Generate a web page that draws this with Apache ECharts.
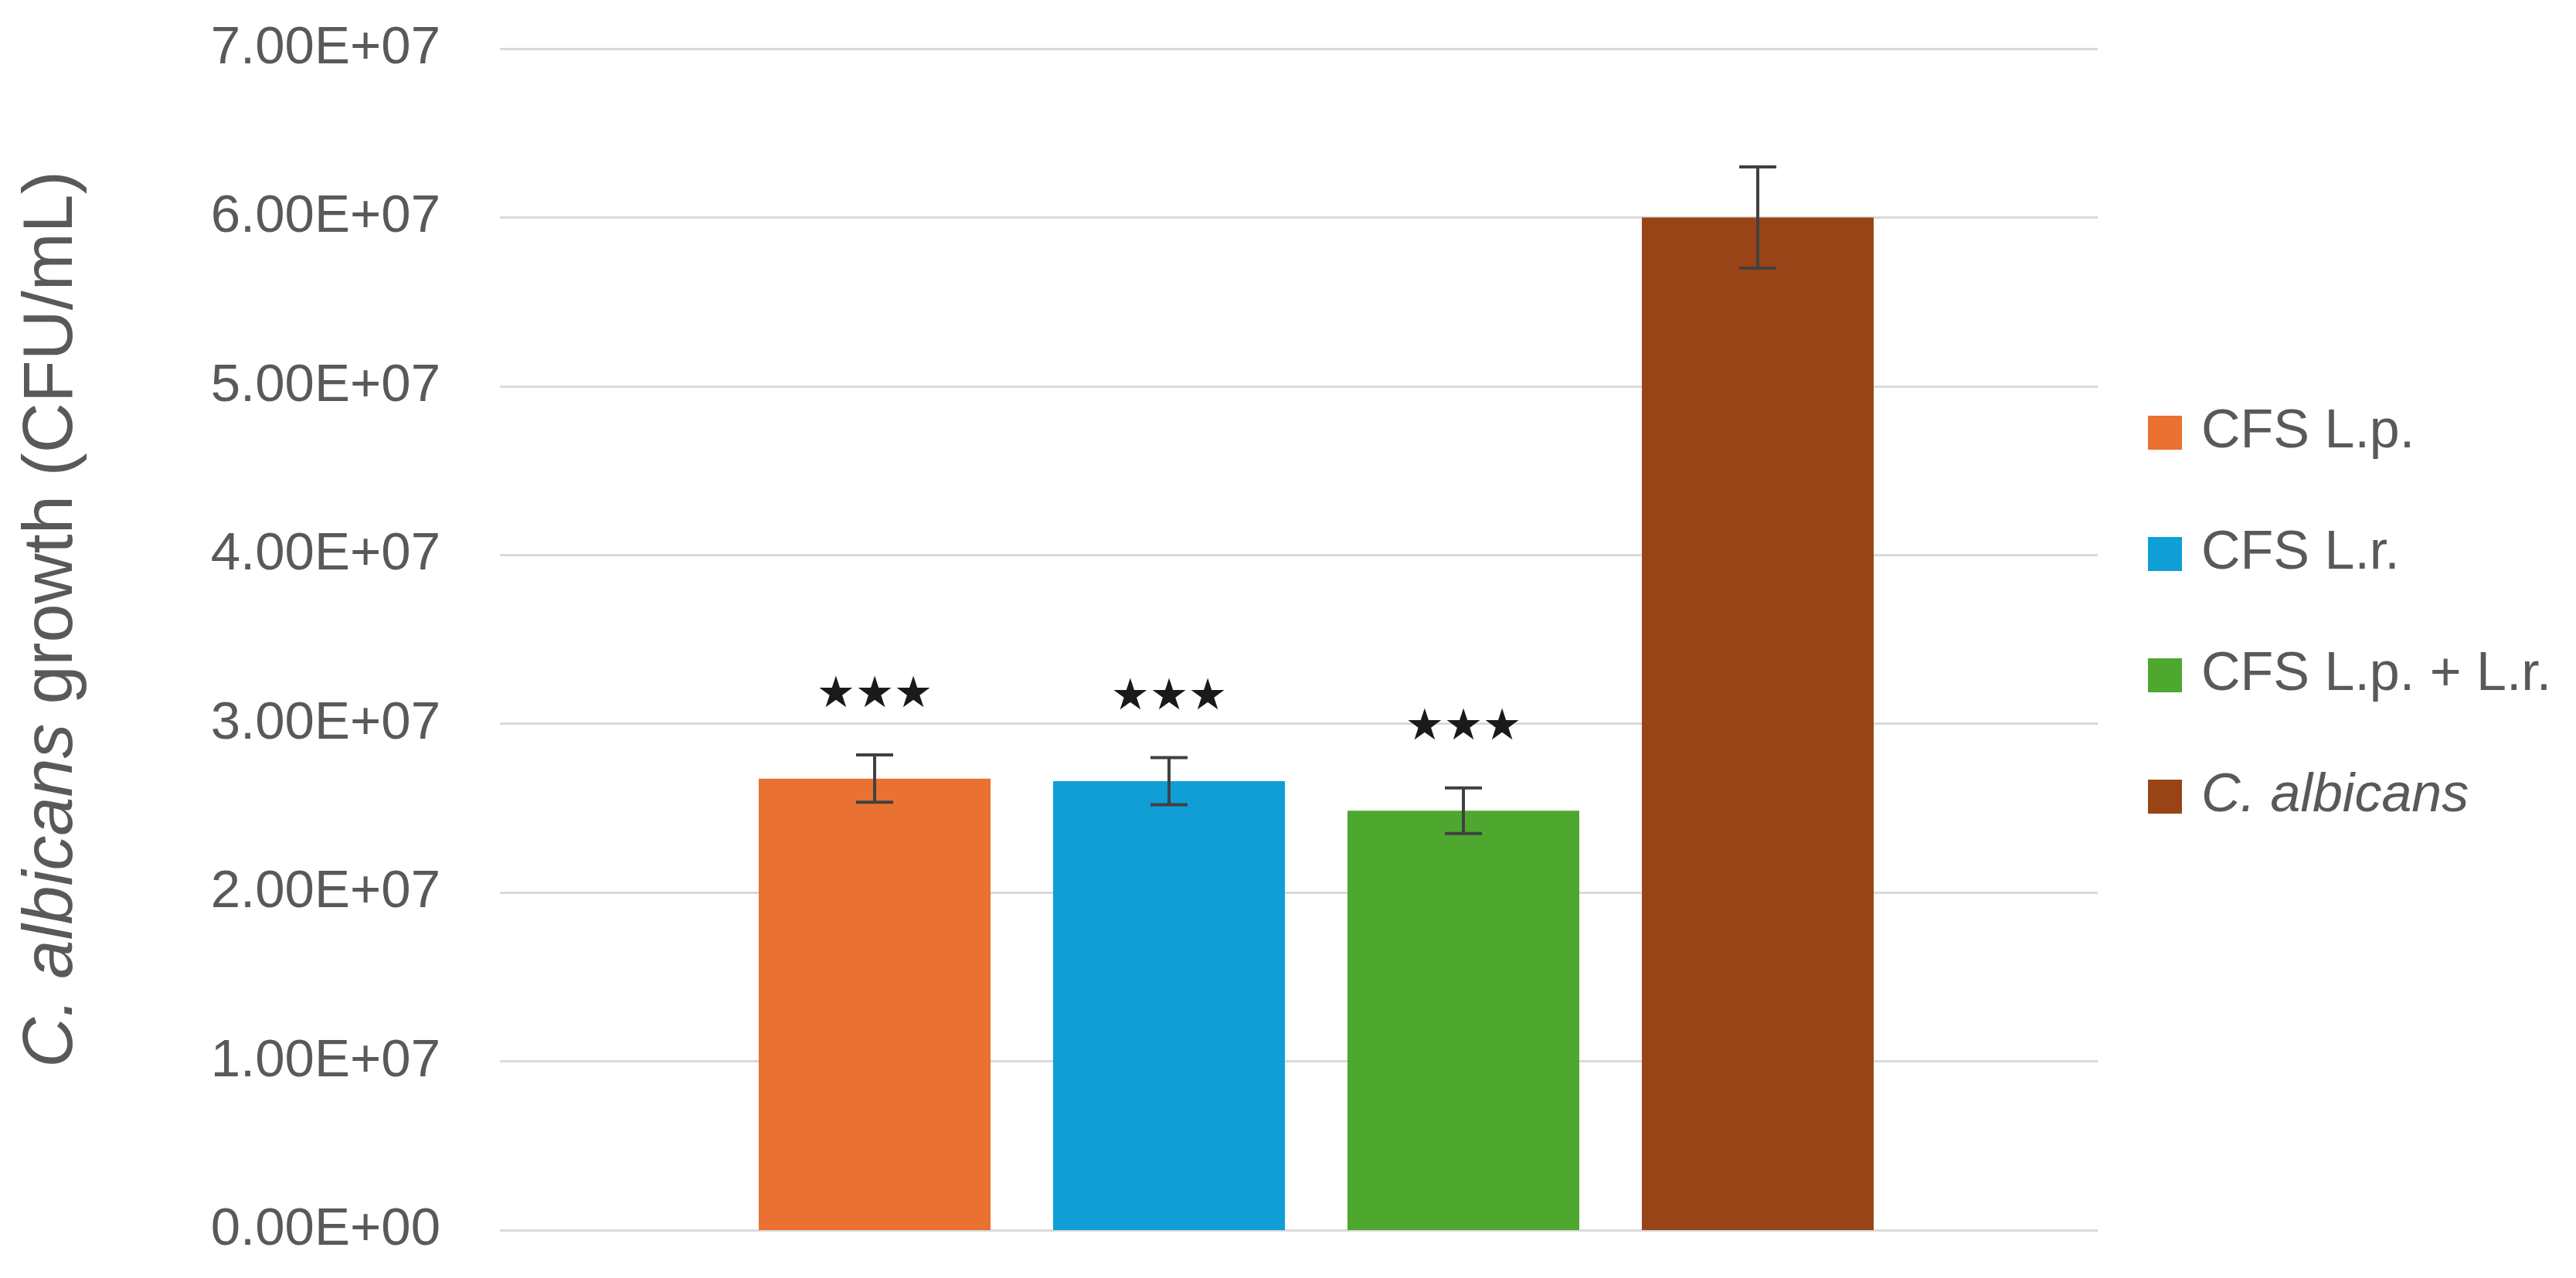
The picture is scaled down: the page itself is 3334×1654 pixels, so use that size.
<!DOCTYPE html>
<html>
<head>
<meta charset="utf-8">
<script src="https://cdn.jsdelivr.net/npm/echarts@6/dist/echarts.min.js"></script>
<style>
html,body{margin:0;padding:0;background:#fff;}
#chart{width:3334px;height:1654px;}
</style>
</head>
<body>
<div id="chart"></div>
<script>
// ---- data ----
var groupNames = ['CFS L.p.', 'CFS L.r.', 'CFS L.p. + L.r.', 'C. albicans'];
var meanValues = [2.675e7, 2.66e7, 2.485e7, 6.0e7];
var errorValues = [1.4e6, 1.4e6, 1.35e6, 3.0e6];
var significance = ['★★★', '★★★', '★★★', ''];
var yMin = 0, yMax = 7e7, yStep = 1e7;
var axisTitlePlain = ' growth (CFU/mL)';
var axisTitleItalic = 'C. albicans';

// ---- styles ----
var colors = ['#E97132', '#0F9ED5', '#4EA72E', '#994416'];
var BAR_W = 300, BAR_GAP = '27%';
var FONT = 'Liberation Sans, Arial, sans-serif';

function sci(v) {
  if (v === 0) return '0.00E+00';
  var e = Math.floor(Math.log10(Math.abs(v)) + 1e-9);
  var m = v / Math.pow(10, e);
  var es = (e < 0 ? '-' : '+') + (Math.abs(e) < 10 ? '0' : '') + Math.abs(e);
  return m.toFixed(2) + 'E' + es;
}

var chart = echarts.init(document.getElementById('chart'));

var barSeries = groupNames.map(function (n, i) {
  return {
    name: n, type: 'bar', xAxisIndex: 1, yAxisIndex: 1,
    barWidth: BAR_W, barGap: BAR_GAP,
    itemStyle: { color: colors[i] },
    data: [meanValues[i]], z: 2
  };
});

var errData = meanValues.map(function (m, i) { return [0, m, errorValues[i], i]; });

var errSeries = {
  type: 'custom', xAxisIndex: 1, yAxisIndex: 1, z: 5,
  data: errData,
  encode: { x: 0, y: 1 },
  renderItem: function (params, api) {
    var idx = api.value(3);
    var mean = api.value(1), err = api.value(2);
    var dx;
    try {
      var layout = api.barLayout({ barWidth: BAR_W, barGap: BAR_GAP, count: groupNames.length });
      dx = layout[idx].offsetCenter;
    } catch (e) {
      var g = BAR_W * parseFloat(BAR_GAP) / 100;
      dx = (idx - (groupNames.length - 1) / 2) * (BAR_W + g);
    }
    var top = api.coord([0, mean + err]);
    var bot = api.coord([0, mean - err]);
    var x = top[0] + dx;
    var cap = 24;
    var ls = { stroke: '#404040', lineWidth: 4 };
    return {
      type: 'group',
      children: [
        { type: 'line', shape: { x1: x, y1: top[1], x2: x, y2: bot[1] }, style: ls },
        { type: 'line', shape: { x1: x - cap, y1: top[1], x2: x + cap, y2: top[1] }, style: ls },
        { type: 'line', shape: { x1: x - cap, y1: bot[1], x2: x + cap, y2: bot[1] }, style: ls },
        { type: 'text', x: x, y: top[1] - 77,
          style: { text: significance[idx], fill: '#1a1a1a', fontSize: 56,
                   fontFamily: 'DejaVu Sans', align: 'center', verticalAlign: 'middle' } }
      ]
    };
  }
};

chart.setOption({
  backgroundColor: '#ffffff',
  animation: false,
  grid: [
    { left: 647, right: 619, top: 63, bottom: 62 },
    { left: 647, right: 574, top: 63, bottom: 62 }
  ],
  legend: {
    orient: 'vertical', left: 2775, top: 520,
    itemWidth: 44, itemHeight: 44, itemGap: 87,
    icon: 'rect',
    data: groupNames,
    formatter: function (n) { return n === axisTitleItalic ? '{i|' + n + '}' : n; },
    textStyle: {
      fontFamily: FONT, fontSize: 70, lineHeight: 70, color: '#595959',
      padding: [0, 0, 0, 20],
      rich: { i: { fontFamily: FONT, fontSize: 70, lineHeight: 70, color: '#595959', fontStyle: 'italic' } }
    }
  },
  xAxis: [
    { type: 'category', gridIndex: 0, data: [''], show: false },
    { type: 'category', gridIndex: 1, data: [''], show: false }
  ],
  yAxis: [
    {
      type: 'value', gridIndex: 0, min: yMin, max: yMax, interval: yStep,
      axisLine: { show: false }, axisTick: { show: false },
      splitLine: { show: true, lineStyle: { color: '#D9D9D9', width: 3 } },
      axisLabel: { margin: 77, fontFamily: FONT, fontSize: 69, color: '#595959', formatter: sci },
      name: '{i|' + axisTitleItalic + '}' + axisTitlePlain,
      nameLocation: 'middle', nameRotate: 90, nameGap: 534,
      nameTextStyle: {
        fontFamily: FONT, fontSize: 90, color: '#595959', padding: [0, 0, 0, 52],
        rich: { i: { fontFamily: FONT, fontSize: 90, color: '#595959', fontStyle: 'italic' } }
      }
    },
    { type: 'value', gridIndex: 1, min: yMin, max: yMax, interval: yStep, show: false, splitLine: { show: false } }
  ],
  series: barSeries.concat([errSeries])
});
</script>
</body>
</html>
